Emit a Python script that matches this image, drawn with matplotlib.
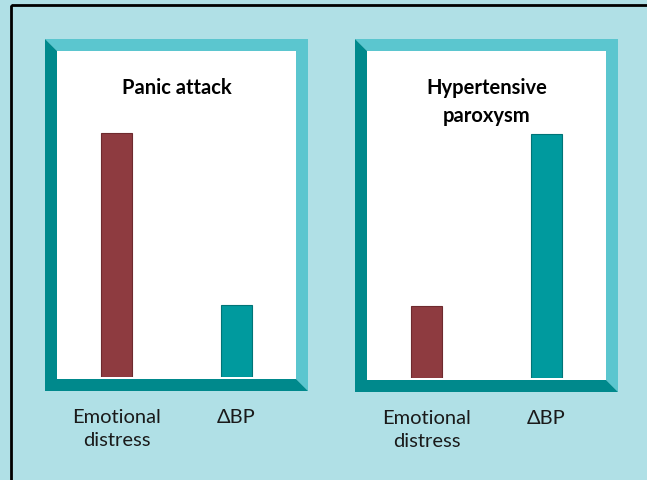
import matplotlib.pyplot as plt
from matplotlib.patches import Polygon, Rectangle

plt.rcParams["font.family"] = ["Lato", "DejaVu Sans"]

# data
panel_titles = ["Panic attack", "Hypertensive\nparoxysm"]
categories = ["Emotional\ndistress", "\u0394BP"]
panic_values = [7.5, 2.2]
hypertensive_values = [2.2, 7.45]
bar_colors = ["#8e3b40", "#009a9e"]

bg = "#b0e0e6"
light_frame = "#5bc6cf"
dark_frame = "#00898c"

W, H = 647, 480
fig = plt.figure(figsize=(W / 100, H / 100), dpi=100)
fig.patch.set_facecolor(bg)

# background layer in pixel coordinates
base = fig.add_axes([0, 0, 1, 1])
base.set_xlim(0, W)
base.set_ylim(H, 0)
base.axis("off")
base.add_patch(Rectangle((11, 5), W + 10, H + 10, fill=False, edgecolor="black", lw=2))


def frame(x0, y0, x1, y1, t=12):
    # bevelled frame: light on top/right, dark on left/bottom
    base.add_patch(Rectangle((x0 + t, y0 + t), x1 - x0 - 2 * t, y1 - y0 - 2 * t,
                             facecolor="white", edgecolor="none"))
    base.add_patch(Polygon([(x0, y0), (x1, y0), (x1, y1), (x1 - t, y1 - t),
                            (x1 - t, y0 + t), (x0 + t, y0 + t)],
                           facecolor=light_frame, edgecolor="none"))
    base.add_patch(Polygon([(x0, y0), (x0 + t, y0 + t), (x0 + t, y1 - t),
                            (x1 - t, y1 - t), (x1, y1), (x0, y1)],
                           facecolor=dark_frame, edgecolor="none"))


panels = [(45, 39, 308, 391), (355, 39, 618, 392)]
values = [panic_values, hypertensive_values]

for (x0, y0, x1, y1), title, vals in zip(panels, panel_titles, values):
    frame(x0, y0, x1, y1)
    ix0, ix1 = x0 + 12, x1 - 12
    iy0, iy1 = y0 + 12, y1 - 14
    ax = fig.add_axes([ix0 / W, 1 - iy1 / H, (ix1 - ix0) / W, (iy1 - iy0) / H])
    ax.patch.set_alpha(0)
    ax.bar(range(len(vals)), vals, width=0.26, color=bar_colors,
           edgecolor=["#6e2a2e", "#007477"], linewidth=0.8)
    ax.set_xlim(-0.5, 1.5)
    ax.set_ylim(0, 10)
    ax.set_yticks([])
    ax.set_xticks(range(len(categories)))
    ax.set_xticklabels(categories, fontsize=14.5, color="#1a1a1a",
                       va="top", linespacing=1.45)
    ax.tick_params(axis="x", length=0, pad=23)
    for s in ax.spines.values():
        s.set_visible(False)
    ax.text(0.5, 0.917, title, transform=ax.transAxes, ha="center", va="top",
            fontsize=14.5, fontweight="bold", color="black", linespacing=1.47)

fig.savefig("out.png", dpi=100, facecolor=bg)
